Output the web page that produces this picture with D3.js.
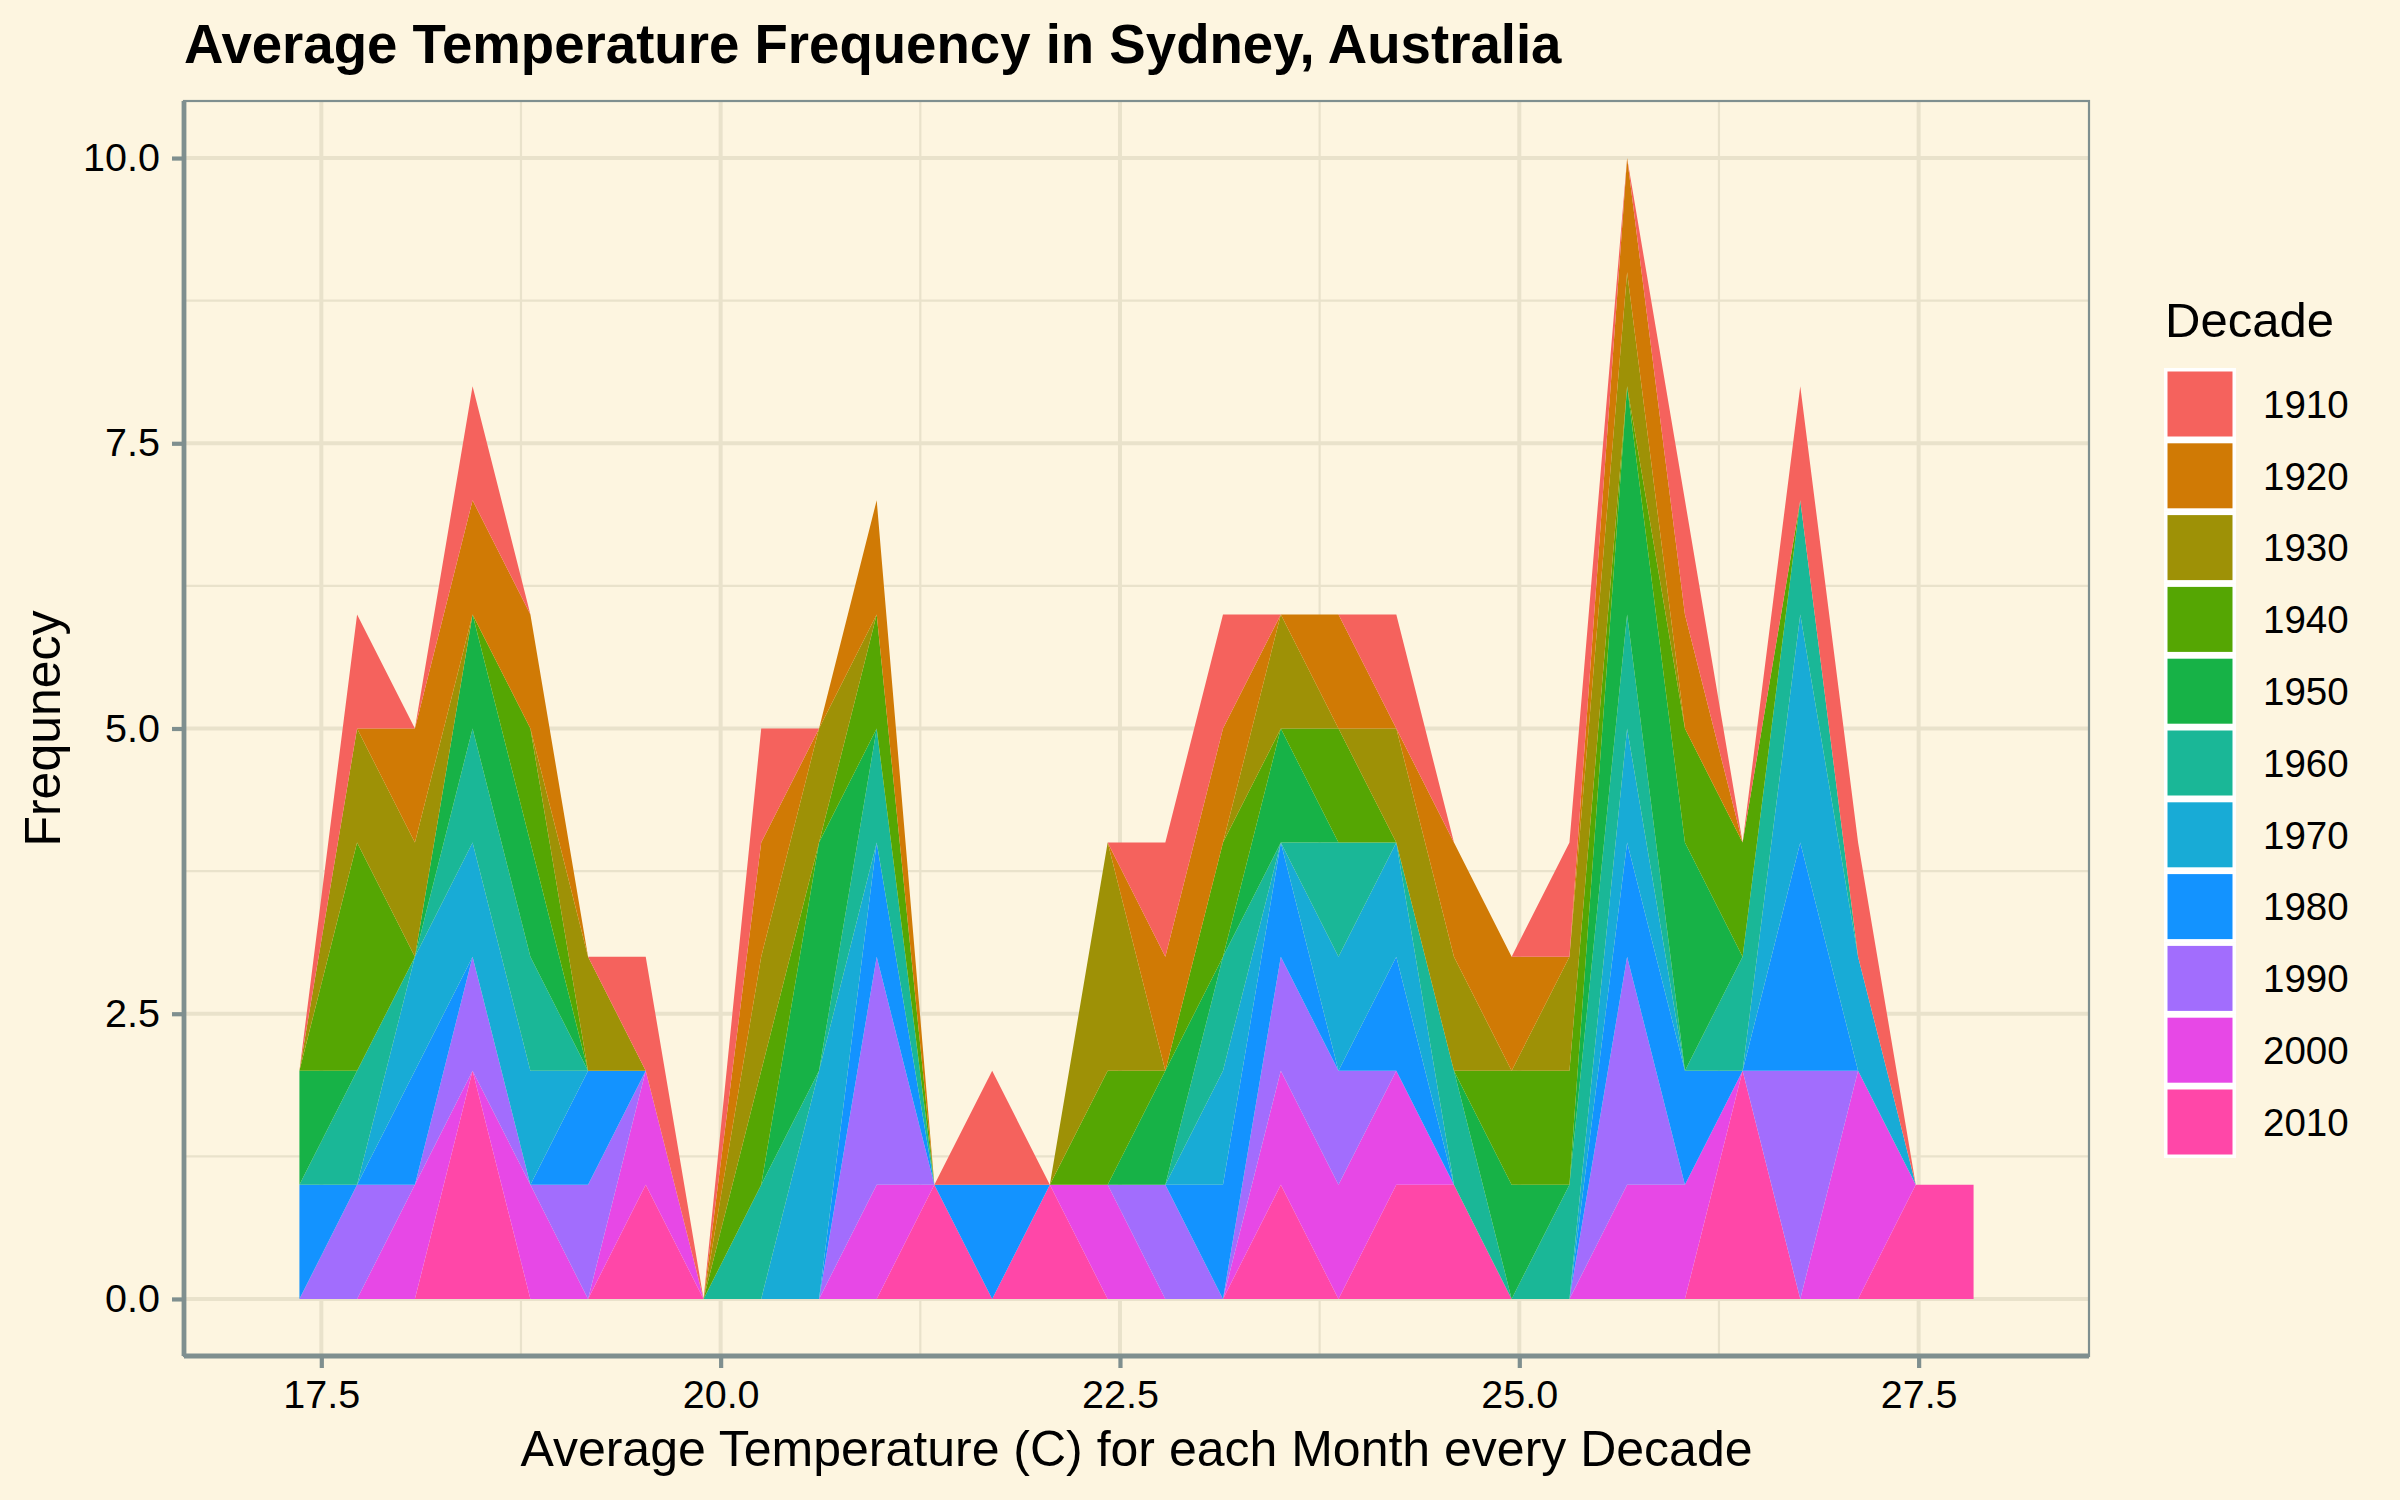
<!DOCTYPE html>
<html><head><meta charset="utf-8">
<script src="https://cdn.jsdelivr.net/npm/d3@7"></script>
<style>
body{margin:0;background:#FDF5E0}
text{font-family:"Liberation Sans",Arial,Helvetica,sans-serif}
</style>
</head><body>
<svg id="chart" width="2400" height="1500"></svg>
<script>
// ---- data ----
const decades = ["1910","1920","1930","1940","1950","1960","1970","1980","1990","2000","2010"];
const decadeColors = ["#F5625D","#D07A05","#9E9106","#55A603","#17B247","#1AB797","#18ABD6","#1393FF","#A26DFD","#E748E6","#FF47A8"];
const binCenters = [17.363,17.724,18.086,18.447,18.809,19.170,19.531,19.893,20.254,20.616,
                    20.977,21.338,21.700,22.061,22.423,22.784,23.145,23.507,23.868,24.230,
                    24.591,24.952,25.314,25.675,26.037,26.398,26.759,27.121,27.482,27.844];
const d1910 = [0,1,0,1,0,0,1,0,1,0,0,0,1,0,0,1,1,0,0,1,0,0,1,0,1,0,1,1,0,0];
const d1920 = [0,0,1,1,1,0,0,0,1,0,1,0,0,0,0,1,1,0,1,0,1,1,0,1,1,0,0,0,0,0];
const d1930 = [0,1,1,0,0,1,0,0,1,1,0,0,0,0,2,0,0,1,0,1,1,0,1,1,0,0,0,0,0,0];
const d1940 = [0,2,0,0,1,0,0,0,1,0,1,0,0,0,1,0,1,0,1,0,0,1,1,0,1,1,0,0,0,0];
const d1950 = [1,0,0,1,1,0,0,0,0,2,0,0,0,0,0,1,0,1,0,0,0,1,0,2,2,0,0,0,0,0];
const d1960 = [0,1,0,1,1,0,0,0,1,0,1,0,0,0,0,0,1,0,1,0,1,0,1,1,0,1,1,0,0,0];
const d1970 = [0,0,1,1,1,0,0,0,0,2,0,0,0,0,0,0,1,0,1,1,0,0,0,1,0,0,2,1,0,0];
const d1980 = [1,0,1,0,0,1,0,0,0,0,1,0,1,0,0,0,1,1,0,1,0,0,0,1,1,0,2,0,0,0];
const d1990 = [0,1,0,1,0,1,0,0,0,0,2,0,0,0,0,1,0,1,1,0,0,0,0,2,0,0,2,0,0,0];
const d2000 = [0,0,1,0,1,0,1,0,0,0,1,0,0,0,1,0,0,1,1,1,0,0,0,1,1,0,0,2,0,0];
const d2010 = [0,0,0,2,0,0,1,0,0,0,0,1,0,1,0,0,0,1,0,1,1,0,0,0,0,2,0,0,1,1];
const xTicks = [17.5, 20.0, 22.5, 25.0, 27.5];
const xMinor = [18.75, 21.25, 23.75, 26.25];
const yTicks = [0, 2.5, 5.0, 7.5, 10.0];
const yMinor = [1.25, 3.75, 6.25, 8.75];
const titleText = "Average Temperature Frequency in Sydney, Australia";
const xTitle = "Average Temperature (C) for each Month every Decade";
const yTitle = "Frequnecy";
const legendTitle = "Decade";

// ---- build table ----
const seriesByDecade = {"1910":d1910,"1920":d1920,"1930":d1930,"1940":d1940,"1950":d1950,
  "1960":d1960,"1970":d1970,"1980":d1980,"1990":d1990,"2000":d2000,"2010":d2010};
const rows = binCenters.map((x,i)=>{
  const r = {x};
  decades.forEach(d=>{ r[d] = seriesByDecade[d][i]; });
  return r;
});

// ---- layout ----
const W = 2400, H = 1500;
const P = {left:184, right:2089, top:101, bottom:1356};
const svg = d3.select("#chart");
const BG = "#FDF5E0", GRID = "#E9E2CB", AXIS = "#7F8F8F";
const TXT = "#000";

svg.append("rect").attr("width",W).attr("height",H).attr("fill",BG);

// scales (ggplot-like: bins' edges included, 5% expansion)
const w = binCenters[1]-binCenters[0];
const lo = binCenters[0]-w/2, hi = binCenters[binCenters.length-1]+w/2;
const ex = (hi-lo)*0.05;
const x = d3.scaleLinear().domain([lo-ex, hi+ex]).range([P.left, P.right]);
const stackOrder = decades.slice().reverse(); // 2010 at bottom
const stacked = d3.stack().keys(stackOrder)(rows);
const yMax = d3.max(stacked[stacked.length-1], d=>d[1]);
const y = d3.scaleLinear().domain([-yMax*0.05, yMax*1.05]).range([P.bottom, P.top]);

// panel background + grid
svg.append("rect").attr("x",P.left).attr("y",P.top).attr("width",P.right-P.left)
  .attr("height",P.bottom-P.top).attr("fill",BG);
const g = svg.append("g");
g.selectAll(".xminor").data(xMinor).join("line")
  .attr("x1",d=>x(d)).attr("x2",d=>x(d)).attr("y1",P.top).attr("y2",P.bottom)
  .attr("stroke",GRID).attr("stroke-width",2.2);
g.selectAll(".yminor").data(yMinor).join("line")
  .attr("y1",d=>y(d)).attr("y2",d=>y(d)).attr("x1",P.left).attr("x2",P.right)
  .attr("stroke",GRID).attr("stroke-width",2.2);
g.selectAll(".xmajor").data(xTicks).join("line")
  .attr("x1",d=>x(d)).attr("x2",d=>x(d)).attr("y1",P.top).attr("y2",P.bottom)
  .attr("stroke",GRID).attr("stroke-width",4);
g.selectAll(".ymajor").data(yTicks).join("line")
  .attr("y1",d=>y(d)).attr("y2",d=>y(d)).attr("x1",P.left).attr("x2",P.right)
  .attr("stroke",GRID).attr("stroke-width",4);

// areas
const colorOf = d3.scaleOrdinal().domain(decades).range(decadeColors);
const area = d3.area().x(d=>x(d.data.x)).y0(d=>y(d[0])).y1(d=>y(d[1]));
svg.append("g").selectAll("path").data(stacked).join("path")
  .attr("d",area).attr("fill",d=>colorOf(d.key));

// panel border
svg.append("rect").attr("x",P.left).attr("y",P.top).attr("width",P.right-P.left)
  .attr("height",P.bottom-P.top).attr("fill","none").attr("stroke",AXIS).attr("stroke-width",2.2);

// axes
const fmt = d3.format(".1f");
const xAxis = svg.append("g").attr("transform",`translate(0,${P.bottom})`)
  .call(d3.axisBottom(x).tickValues(xTicks).tickFormat(fmt).tickSize(12).tickPadding(12));
const yAxis = svg.append("g").attr("transform",`translate(${P.left},0)`)
  .call(d3.axisLeft(y).tickValues(yTicks).tickFormat(fmt).tickSize(12).tickPadding(12));
[xAxis,yAxis].forEach(a=>{
  a.select(".domain").attr("stroke",AXIS).attr("stroke-width",4.8);
  a.selectAll(".tick line").attr("stroke",AXIS).attr("stroke-width",4.2);
  a.selectAll(".tick text").attr("fill",TXT).attr("font-size",39.5)
    .attr("font-family","Liberation Sans, Arial, sans-serif");
});
xAxis.select(".domain").attr("d",`M${P.left},0H${P.right}`);
yAxis.select(".domain").attr("d",`M0,${P.top}V${P.bottom}`);

// titles
svg.append("text").attr("x",P.left).attr("y",63).attr("font-size",54.6).attr("font-weight","bold")
  .attr("fill",TXT).text(titleText);
svg.append("text").attr("x",(P.left+P.right)/2).attr("y",1466).attr("text-anchor","middle")
  .attr("font-size",50).attr("fill",TXT).text(xTitle);
svg.append("text").attr("transform",`translate(60,${(P.top+P.bottom)/2}) rotate(-90)`)
  .attr("text-anchor","middle").attr("font-size",50).attr("fill",TXT).text(yTitle);

// legend
const L = {x:2164, y:368, size:72, pitch:71.8, inset:3.5};
const leg = svg.append("g");
leg.append("text").attr("x",L.x+1).attr("y",337).attr("font-size",49).attr("fill",TXT).text(legendTitle);
const items = leg.selectAll("g.item").data(decades).join("g").attr("class","item")
  .attr("transform",(d,i)=>`translate(${L.x},${L.y+i*L.pitch})`);
items.append("rect").attr("width",L.size).attr("height",L.size).attr("fill","#fff");
items.append("rect").attr("x",L.inset).attr("y",L.inset)
  .attr("width",L.size-2*L.inset).attr("height",L.size-2*L.inset).attr("fill",d=>colorOf(d));
items.append("text").attr("x",99).attr("y",L.size/2).attr("dy","0.36em")
  .attr("font-size",38.5).attr("fill",TXT).text(d=>d);
</script>
</body></html>
